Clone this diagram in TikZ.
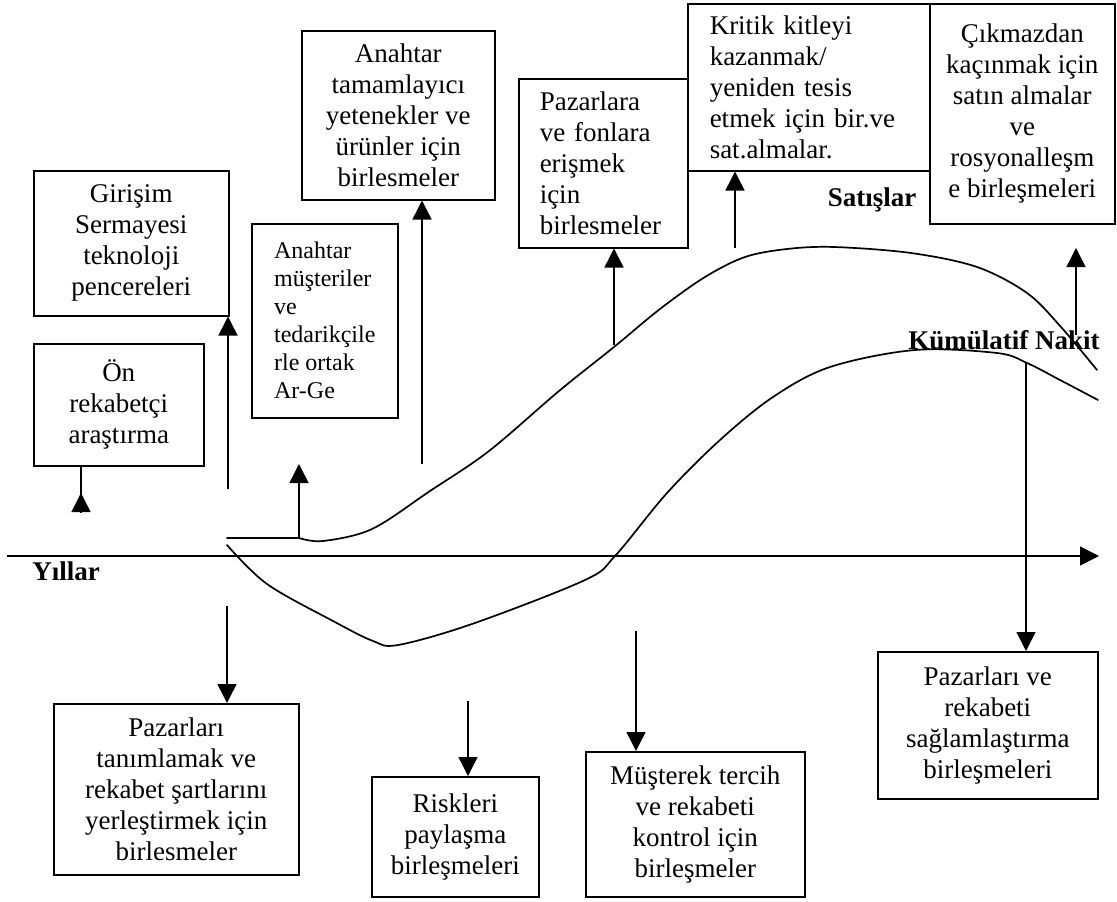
\documentclass[tikz,border=0pt]{standalone}
\usepackage{fontspec}
\setmainfont{Liberation Serif}
\usetikzlibrary{arrows.meta}
\begin{document}
\begin{tikzpicture}[x=1pt,y=-1pt,
  box/.style={draw, line width=1.5pt, anchor=north west, inner sep=0pt,
              font=\fontsize{27}{31}\selectfont, align=center},
  lbox/.style={box, align=left},
  sbox/.style={box, align=left, font=\fontsize{24}{28}\selectfont},
  lbl/.style={font=\fontsize{27}{31}\selectfont\bfseries, inner sep=0pt},
  link/.style={line width=1.5pt},
  arr/.style={link, -{Triangle[length=19pt,width=19pt]}},
  curve/.style={line width=1.7pt, line cap=round, line join=round}]
\useasboundingbox (0,0) rectangle (1117,902);

% boxes above the time axis
\node[box, minimum width=193pt, minimum height=169pt] (an) at (301,30)
  {Anahtar\\tamamlayıcı\\yetenekler ve\\ürünler için\\birlesmeler};
\node[box, minimum width=195pt, minimum height=145pt] (gir) at (33,170)
  {Girişim\\Sermayesi\\teknoloji\\pencereleri};
\node[box, minimum width=170pt, minimum height=122pt] (on) at (33,343)
  {Ön\\rekabetçi\\araştırma};
\node[sbox, minimum width=146pt, minimum height=194pt] (mus) at (251,223)
  {Anahtar\\müşteriler\\ve\\tedarikçile\\rle ortak\\Ar-Ge};
\node[lbox, text width=127pt, inner xsep=21pt, minimum height=169pt] (paz) at (518,78)
  {Pazarlara\\ve fonlara\\erişmek\\için\\birlesmeler};
\node[lbox, text width=198pt, inner xsep=22pt, minimum height=167pt] (kr) at (687,3)
  {Kritik kitleyi\\kazanmak/\\yeniden tesis\\etmek için bir.ve\\sat.almalar.};
\node[box, minimum width=185pt, minimum height=220pt] (cik) at (929,3)
  {Çıkmazdan\\kaçınmak için\\satın almalar\\ve\\rosyonalleşm\\e birleşmeleri};

% boxes below the time axis
\node[box, minimum width=245pt, minimum height=171pt] (tan) at (53,703)
  {Pazarları\\tanımlamak ve\\rekabet şartlarını\\yerleştirmek için\\birlesmeler};
\node[box, minimum width=167pt, minimum height=120pt] (risk) at (371,776)
  {Riskleri\\paylaşma\\birleşmeleri};
\node[box, minimum width=219pt, minimum height=145pt] (mt) at (585,751)
  {Müşterek tercih\\ve rekabeti\\kontrol için\\birleşmeler};
\node[box, minimum width=220pt, minimum height=147pt] (pr) at (877,651)
  {Pazarları ve\\rekabeti\\sağlamlaştırma\\birleşmeleri};

% axis and curve labels
\node[lbl] (sat) at (872,200) {Satışlar};
\node[lbl] (kum) at (1004,340) {Kümülatif Nakit};
\node[lbl] (yil) at (66,571) {Yıllar};

% time axis
\coordinate (ax0) at (7,556);
\coordinate (ax1) at (1099,556);
\draw[arr] (ax0) -- (ax1);

% sales curve
\draw[curve] (227,538) -- (299,538);
\draw[curve] plot[smooth, tension=0.55] coordinates {(299,538) (323,541) (372,529)
  (430,491) (489,451) (559,391) (614,347) (660,309) (705,277) (745,257) (787,249)
  (834,247) (911,253) (977,267) (1027,293) (1061,327) (1097,370)};

% cumulative cash curve
\draw[curve] plot[smooth, tension=0.55] coordinates {(227,545) (267,584) (333,621)
  (373,641) (398,645) (472,624) (585,580) (615,556) (667,493) (720,440) (773,397)
  (830,367) (915,350) (997,353) (1027,363) (1060,380) (1098,400)};

% upward arrows
\coordinate (onT) at (81,513);
\draw[link] (on.south -| onT) -- (onT);
\draw[arr] (onT) -- ++(0,-20);
\coordinate (gB) at (228,489);
\draw[arr] (gB) -- (gB |- gir.south);
\coordinate (mB) at (299,538);
\coordinate (mT) at (299,464);
\draw[arr] (mB) -- (mT);
\coordinate (aB) at (422,464);
\draw[arr] (aB) -- (aB |- an.south);
\coordinate (pB) at (614,345);
\draw[arr] (pB) -- (pB |- paz.south);
\coordinate (kB) at (735,248);
\draw[arr] (kB) -- (kB |- kr.south);
\coordinate (cB) at (1076,335);
\coordinate (cT) at (1076,248);
\draw[arr] (cB) -- (cT);

% downward arrows
\coordinate (tT) at (227,606);
\draw[arr] (tT) -- (tT |- tan.north);
\coordinate (rT) at (468,701);
\draw[arr] (rT) -- (rT |- risk.north);
\coordinate (mtT) at (636,631);
\draw[arr] (mtT) -- (mtT |- mt.north);
\coordinate (prT) at (1026,362);
\draw[arr] (prT) -- (prT |- pr.north);
\end{tikzpicture}
\end{document}
